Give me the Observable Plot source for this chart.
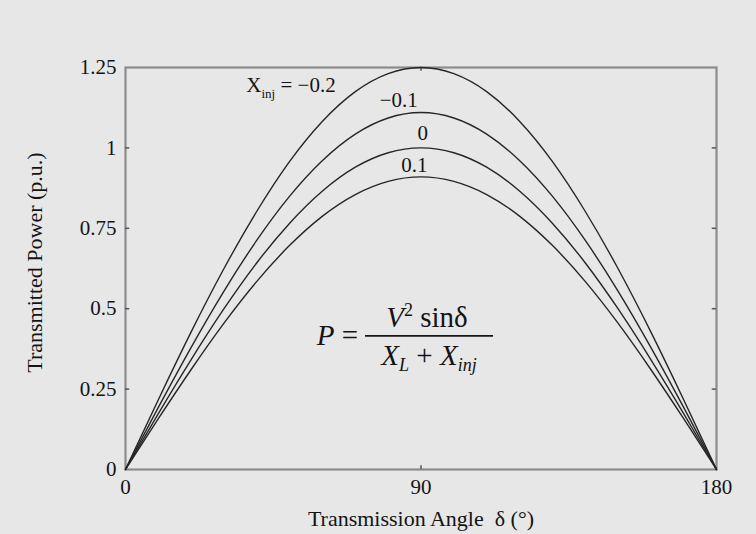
<!DOCTYPE html>
<html><head><meta charset="utf-8">
<script src="https://cdn.jsdelivr.net/npm/d3@7"></script>
<script src="https://cdn.jsdelivr.net/npm/@observablehq/plot@0.6"></script>
<style>
html,body{margin:0;padding:0;background:#e7e7e7;}
</style></head><body><div id="chart"></div>
<script>
// transmission angle (degrees)
const angles = [0,10,20,30,40,50,60,70,80,90,100,110,120,130,140,150,160,170,180];
// transmitted power (p.u.), one array per X_inj
const powerXinjNeg02 = [0,0.217,0.428,0.625,0.803,0.958,1.083,1.175,1.231,1.25,1.231,1.175,1.083,0.958,0.803,0.625,0.428,0.217,0];
const powerXinjNeg01 = [0,0.193,0.380,0.555,0.713,0.850,0.961,1.043,1.093,1.11,1.093,1.043,0.961,0.850,0.713,0.555,0.380,0.193,0];
const powerXinj0     = [0,0.174,0.342,0.500,0.643,0.766,0.866,0.940,0.985,1.00,0.985,0.940,0.866,0.766,0.643,0.500,0.342,0.174,0];
const powerXinj01    = [0,0.158,0.311,0.455,0.585,0.697,0.788,0.855,0.896,0.91,0.896,0.855,0.788,0.697,0.585,0.455,0.311,0.158,0];
const seriesNames = ["-0.2","-0.1","0","0.1"];
const seriesValues = [powerXinjNeg02, powerXinjNeg01, powerXinj0, powerXinj01];
// curve labels (centre positions)
const labelTexts = ["X_inj = \u22120.2", "\u22120.1", "0", "0.1"];
const labelX = [50.4, 83.2, 90.5, 88];
const labelY = [1.194, 1.148, 1.045, 0.945];
// axes
const yTicks = [0, 0.25, 0.5, 0.75, 1, 1.25];
const yTickLabels = ["0", "0.25", "0.5", "0.75", "1", "1.25"];
const xTicks = [0, 90, 180];
const xTickLabels = ["0", "90", "180"];
const xLabel = "Transmission Angle  \u03b4 (\u00b0)";
const yLabel = "Transmitted Power (p.u.)";
// formula anchor in data coordinates
const formulaAt = {angle: 92.6, power: 0.414};

const rows = seriesNames.flatMap((s, j) => angles.map((a, i) => ({series: s, angle: a, power: seriesValues[j][i]})));
const labels = labelTexts.map((t, i) => ({text: t, angle: labelX[i], power: labelY[i]}));

const ink = "#141414";
const serif = "'Liberation Serif', 'Times New Roman', serif";
const plot = Plot.plot({
  width: 756, height: 534,
  marginLeft: 125, marginRight: 40, marginTop: 67, marginBottom: 65,
  style: {background: "#e7e7e7", fontFamily: serif, fontSize: "21px", color: ink},
  x: {domain: [0, 180]},
  y: {domain: [0, 1.25]},
  marks: [
    Plot.frame({stroke: "#8c8c8c", strokeWidth: 2.2}),
    Plot.ruleY(yTicks.slice(1, -1), {x1: 0, x2: 1.3, stroke: "#555", strokeWidth: 1.5}),
    Plot.ruleY(yTicks.slice(1, -1), {x1: 178.7, x2: 180, stroke: "#555", strokeWidth: 1.5}),
    Plot.ruleX([90], {y1: 0, y2: 0.012, stroke: "#555", strokeWidth: 1.5}),
    Plot.ruleX([90], {y1: 1.238, y2: 1.25, stroke: "#555", strokeWidth: 1.5}),
    Plot.axisY(yTicks, {tickSize: 0, tickPadding: 9, tickFormat: (d, i) => yTickLabels[i], label: null, fill: ink}),
    Plot.axisX(xTicks, {tickSize: 0, tickPadding: 10, tickFormat: (d, i) => xTickLabels[i], label: null, fill: ink}),
    Plot.line(rows, {x: "angle", y: "power", z: "series", stroke: "#262626", strokeWidth: 1.4, curve: "natural"}),
    Plot.text(labels, {x: "angle", y: "power", text: "text", textAnchor: "middle", fill: ink, className: "curvelabel"}),
    Plot.text([xLabel], {frameAnchor: "bottom", dy: 41, lineAnchor: "top", textAnchor: "middle", fontSize: 22, fill: ink}),
    Plot.text([yLabel], {frameAnchor: "left", dx: -91, dy: -6, rotate: -90, textAnchor: "middle", fontSize: 22, fill: ink})
  ]
});

// rich text for the "X_inj" label
d3.select(plot).selectAll("g.curvelabel text").each(function() {
  const t = this.textContent;
  if (t.includes("_inj")) {
    const sel = d3.select(this);
    sel.text(null);
    sel.append("tspan").text("X");
    sel.append("tspan").attr("font-size", "13px").attr("dy", "6").text("inj");
    sel.append("tspan").attr("dy", "-6").text(" = \u22120.2");
  }
});

// formula
const sx = plot.scale("x"), sy = plot.scale("y");
const cx = sx.apply(formulaAt.angle), cy = sy.apply(formulaAt.power);
const f = d3.select(plot).append("g").attr("font-family", serif).attr("fill", ink);
f.append("line").attr("x1", cx - 64).attr("x2", cx + 64).attr("y1", cy).attr("y2", cy)
  .attr("stroke", ink).attr("stroke-width", 1.8);
const num = f.append("text").attr("x", cx - 2).attr("y", cy - 9).attr("text-anchor", "middle").attr("font-size", "29px");
num.append("tspan").attr("font-style", "italic").text("V");
num.append("tspan").attr("font-size", "18px").attr("dy", "-11").text("2");
num.append("tspan").attr("dy", "11").text(" sin\u03b4");
const den = f.append("text").attr("x", cx).attr("y", cy + 29).attr("text-anchor", "middle").attr("font-size", "29px");
den.append("tspan").attr("font-style", "italic").text("X");
den.append("tspan").attr("font-style", "italic").attr("font-size", "18px").attr("dy", "6").text("L");
den.append("tspan").attr("dy", "-6").text(" + ");
den.append("tspan").attr("font-style", "italic").text("X");
den.append("tspan").attr("font-style", "italic").attr("font-size", "18px").attr("dy", "6").text("inj");
const lhs = f.append("text").attr("x", cx - 71).attr("y", cy + 9).attr("text-anchor", "end").attr("font-size", "29px");
lhs.append("tspan").attr("font-style", "italic").text("P");
lhs.append("tspan").text(" =");

document.getElementById("chart").appendChild(plot);
</script></body></html>
